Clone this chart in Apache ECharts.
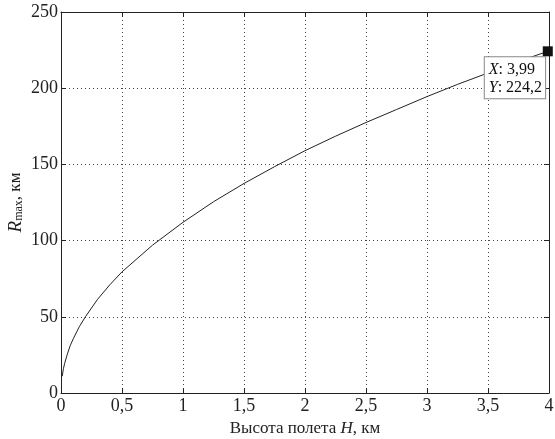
<!DOCTYPE html>
<html>
<head>
<meta charset="utf-8">
<script src="https://cdn.jsdelivr.net/npm/echarts@6/dist/echarts.min.js"></script>
<style>
  html, body { margin: 0; padding: 0; background: #fff; }
  #chart { width: 555px; height: 439px; }
</style>
</head>
<body>
<div id="chart"></div>
<script>
// Flight altitude H, km
const heightKm = [0.01, 0.02, 0.03, 0.05, 0.075, 0.1, 0.15, 0.2, 0.3, 0.4, 0.5, 0.75, 1, 1.25, 1.5, 1.75, 2, 2.25, 2.5, 2.75, 3, 3.25, 3.5, 3.75, 3.99];
// Maximum range R_max, km
const rangeKm = [11, 16, 19.5, 25, 31, 35.5, 43.5, 50, 61.5, 71, 79.5, 97, 112, 125.5, 137.5, 148.5, 159, 168.5, 177.5, 186, 194.5, 202.5, 210, 217.5, 224.2];
// Data tip at the last point
const tipPoint = [3.99, 224.2];

const xTicks = { min: 0, max: 4, interval: 0.5 };
const yTicks = { min: 0, max: 250, interval: 50 };

const FONT = 'Liberation Serif';
const comma = v => String(v).replace('.', ',');

const chart = echarts.init(document.getElementById('chart'), null, { renderer: 'canvas' });

const axisLine = { show: true, onZero: false, lineStyle: { color: '#222', width: 1 } };
const tickIn = { show: true, inside: true, length: 5, lineStyle: { color: '#222' } };
const dotted = { show: true, lineStyle: { color: '#444', type: [1, 3], width: 1 } };

chart.setOption({
  animation: false,
  backgroundColor: '#fff',
  grid: { left: 61, right: 6, top: 12, bottom: 46, containLabel: false, outerBoundsMode: 'none' },
  xAxis: [
    {
      type: 'value', ...xTicks, position: 'bottom',
      axisLine, axisTick: tickIn, splitLine: dotted,
      axisLabel: { color: '#222', fontFamily: FONT, fontSize: 18, margin: 4, formatter: comma },
      name: '{n|Высота полета }{i|H}{n|, км}',
      nameLocation: 'middle', nameGap: 16,
      nameTextStyle: {
        rich: {
          n: { fontFamily: FONT, fontSize: 17, color: '#222' },
          i: { fontFamily: FONT, fontSize: 17, color: '#222', fontStyle: 'italic' }
        }
      }
    },
    {
      type: 'value', ...xTicks, position: 'top',
      axisLine, axisTick: tickIn, splitLine: { show: false }, axisLabel: { show: false }
    }
  ],
  yAxis: [
    {
      type: 'value', ...yTicks, position: 'left',
      axisLine, axisTick: tickIn, splitLine: dotted,
      axisLabel: { color: '#222', fontFamily: FONT, fontSize: 18, margin: 3, formatter: comma },
      name: '{i|R}{s|max}{n|, км}',
      nameLocation: 'middle', nameGap: 36, nameRotate: 90, nameMoveOverlap: false,
      nameTextStyle: {
        rich: {
          i: { fontFamily: FONT, fontSize: 19, color: '#222', fontStyle: 'italic' },
          s: { fontFamily: FONT, fontSize: 12, color: '#222', verticalAlign: 'bottom', padding: [7, 0, 0, 0] },
          n: { fontFamily: FONT, fontSize: 17, color: '#222' }
        }
      }
    },
    {
      type: 'value', ...yTicks, position: 'right',
      axisLine, axisTick: tickIn, splitLine: { show: false }, axisLabel: { show: false }
    }
  ],
  series: [
    {
      type: 'line',
      data: heightKm.map((h, i) => [h, rangeKm[i]]),
      showSymbol: false,
      smooth: false,
      lineStyle: { color: '#222', width: 1 },
      z: 2
    },
    {
      type: 'scatter',
      data: [tipPoint],
      symbol: 'rect',
      symbolSize: 10,
      itemStyle: { color: '#111', opacity: 1 },
      z: 5,
      label: {
        show: true,
        position: [-58, 11],
        backgroundColor: '#fff',
        borderColor: '#888',
        borderWidth: 1,
        padding: [3, 3, 2, 4],
        lineHeight: 18,
        formatter: p => '{i|X}{n|: ' + comma(p.value[0]) + '}\n{i|Y}{n|: ' + comma(p.value[1]) + '}',
        rich: {
          i: { fontFamily: FONT, fontSize: 16, color: '#111', fontStyle: 'italic', lineHeight: 18 },
          n: { fontFamily: FONT, fontSize: 16, color: '#111', lineHeight: 18 }
        }
      }
    }
  ]
});
</script>
</body>
</html>
